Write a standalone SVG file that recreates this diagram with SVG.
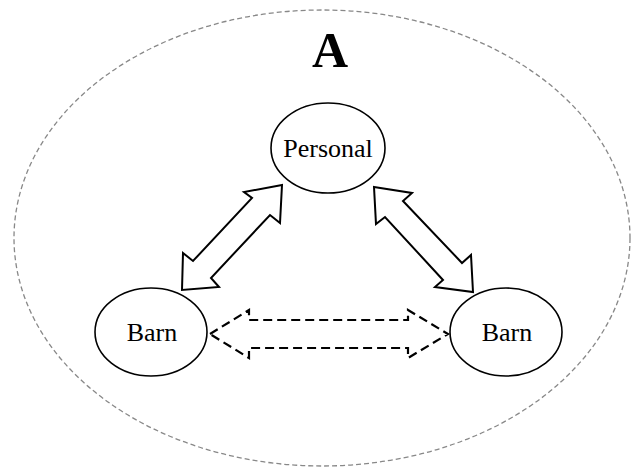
<svg xmlns="http://www.w3.org/2000/svg" width="631" height="470" viewBox="0 0 631 470">
  <style>
    .node { fill: #fff; stroke: #000; stroke-width: 1.6; }
    .label { font-family: "Liberation Serif", "Times New Roman", serif; font-size: 26px; fill: #000; text-anchor: middle; }
    .title { font-family: "Liberation Serif", "Times New Roman", serif; font-size: 50px; font-weight: bold; fill: #000; text-anchor: middle; }
    .frame { fill: none; stroke: #888; stroke-width: 1.3; stroke-dasharray: 5 3; }
    .block { fill: #fff; stroke: #000; stroke-width: 2; stroke-linejoin: miter; }
    .block-dashed { fill: none; stroke: #000; stroke-width: 2.2; stroke-dasharray: 9 5; }
  </style>
  <rect width="631" height="470" fill="#fff"/>

  <!-- enclosing group boundary -->
  <g id="group-a">
    <ellipse class="frame" cx="322" cy="238" rx="308" ry="228"/>
    <text class="title" x="330" y="67">A</text>
  </g>

  <!-- double-headed block arrows between the nodes -->
  <g id="connectors">
    <polygon class="block" points="282,185 244,192 252,198 193,261 183,253 182,290 219,287 211,278 270,215 280,223"/>
    <polygon class="block" points="374,187 412,193 403,201 462,263 471,255 473,292 435,287 443,280 385,217 376,224"/>
    <polygon class="block-dashed" points="210,334 249,310 249,320 408,320 408,310 448,334 408,358 408,348 249,348 249,358"/>
  </g>

  <g id="node-personal">
    <ellipse class="node" cx="328" cy="148" rx="57" ry="45"/>
    <text class="label" x="328" y="157">Personal</text>
  </g>

  <g id="node-barn-left">
    <ellipse class="node" cx="151" cy="332" rx="56" ry="44"/>
    <text class="label" x="152" y="341">Barn</text>
  </g>

  <g id="node-barn-right">
    <ellipse class="node" cx="506" cy="332" rx="56" ry="44"/>
    <text class="label" x="507" y="341">Barn</text>
  </g>
</svg>
